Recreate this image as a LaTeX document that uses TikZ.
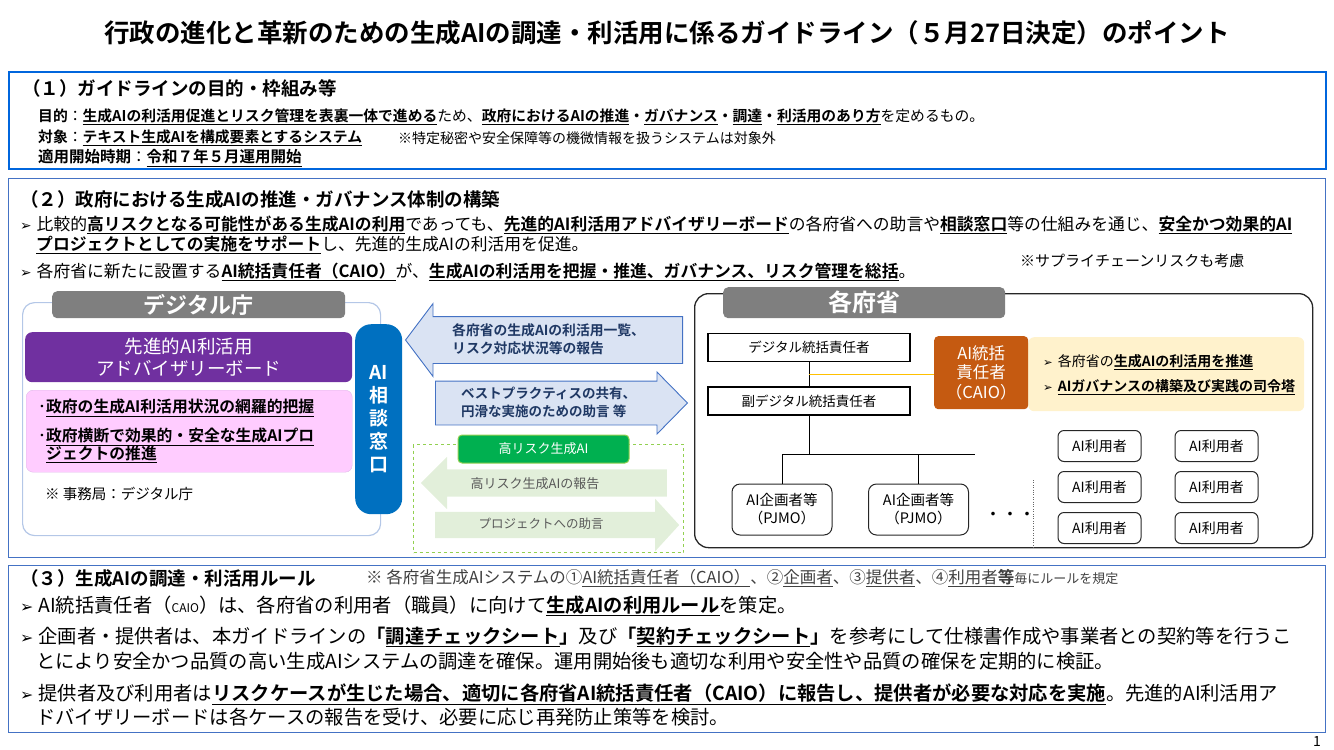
\documentclass[tikz,border=0pt]{standalone}
\usepackage{fontspec}
\setmainfont{Noto Sans CJK JP}[BoldFont={Noto Sans CJK JP Bold}]
\newfontfamily\dingfont{DejaVu Sans}
\usepackage{xcolor}
\usepackage{tikz}
\usetikzlibrary{shapes.arrows, positioning, calc}
\definecolor{secBlue}{RGB}{0, 102, 221}
\definecolor{frameBlue}{RGB}{68, 114, 196}
\definecolor{tagGray}{RGB}{127, 127, 127}
\definecolor{boardPurple}{RGB}{112, 48, 160}
\definecolor{rolePink}{RGB}{255, 204, 255}
\definecolor{roleEdge}{RGB}{225, 185, 235}
\definecolor{daEdge}{RGB}{180, 199, 231}
\definecolor{deskBlue}{RGB}{0, 112, 192}
\definecolor{arrFill}{RGB}{218, 227, 243}
\definecolor{arrText}{RGB}{31, 56, 100}
\definecolor{riskEdge}{RGB}{146, 208, 80}
\definecolor{riskGreen}{RGB}{0, 176, 80}
\definecolor{riskFill}{RGB}{226, 239, 218}
\definecolor{riskText}{RGB}{89, 89, 89}
\definecolor{caioOrange}{RGB}{197, 90, 17}
\definecolor{caioYellow}{RGB}{255, 242, 204}
\definecolor{caioLine}{RGB}{255, 192, 0}
\definecolor{noteGray}{RGB}{64, 64, 64}
\newcommand\ubf[1]{\underline{\textbf{#1}}}
\newcommand\bul{\scalebox{0.82}{\dingfont ➢}\hspace{5pt}}

\begin{document}
\begin{tikzpicture}[x=1pt, y=-1pt,
  secframe/.style={draw=frameBlue, line width=1.3pt, anchor=north west, inner sep=0pt},
  sechead/.style={anchor=west, inner sep=0pt, font=\bfseries\fontsize{18.5}{20}\selectfont},
  txtS/.style={anchor=west, inner sep=0pt, font=\fontsize{14.8}{17}\selectfont},
  txtM/.style={anchor=west, inner sep=0pt, font=\fontsize{16.8}{19}\selectfont},
  txtL/.style={anchor=west, inner sep=0pt, font=\fontsize{19.3}{22}\selectfont},
  tagbox/.style={rectangle, rounded corners=5pt, fill=tagGray, text=white, anchor=north west,
               inner sep=0pt, font=\bfseries\fontsize{22}{24}\selectfont},
  boardbox/.style={rectangle, rounded corners=7pt, fill=boardPurple, text=white, anchor=north west,
               align=center, inner sep=0pt, font=\fontsize{18.5}{22}\selectfont},
  rolebox/.style={rectangle, rounded corners=7pt, fill=rolePink, draw=roleEdge, anchor=north west, inner sep=0pt},
  roletxt/.style={anchor=west, inner sep=0pt, align=left, font=\fontsize{15.8}{18}\selectfont},
  deskbox/.style={rectangle, rounded corners=16pt, fill=deskBlue, text=white, anchor=north west,
               align=center, inner sep=0pt, font=\bfseries\fontsize{19}{23}\selectfont},
  bluearrow/.style={single arrow, draw=frameBlue, fill=arrFill, line width=0.9pt, inner xsep=0pt, anchor=tail},
  greenarrow/.style={single arrow, fill=riskFill, inner xsep=0pt, anchor=tail},
  arrtxt/.style={anchor=west, inner sep=0pt, align=left, text=arrText, font=\bfseries\fontsize{13.8}{17.5}\selectfont},
  risktxt/.style={inner sep=0pt, text=riskText, font=\fontsize{13}{15}\selectfont},
  orgbox/.style={rectangle, draw=black, line width=1.5pt, fill=white, minimum width=202pt,
               minimum height=28pt, inner sep=0pt, font=\fontsize{13.5}{15}\selectfont},
  pjmobox/.style={rectangle, rounded corners=8pt, draw=black!85, line width=1pt, minimum width=100pt,
               minimum height=51pt, align=center, inner sep=0pt, font=\fontsize{14.5}{18}\selectfont},
  userbox/.style={rectangle, rounded corners=6pt, draw=black!85, line width=1pt, minimum width=83pt,
               minimum height=31pt, inner sep=0pt, font=\fontsize{14}{16}\selectfont},
  orgline/.style={line width=1pt},
]
  \useasboundingbox (0,0) rectangle (1334,750);

  % Title
  \node[font=\bfseries\fontsize{25.5}{28}\selectfont] (title) at (667,33) {行政の進化と革新のための生成AIの調達・利活用に係るガイドライン（５月27日決定）のポイント};

  % (1) Purpose and framework
  \node[secframe, draw=secBlue, line width=1.8pt, minimum width=1317pt, minimum height=97pt] (sec1) at (8,71) {};
  \node[sechead] (head1) at (22,88) {（１）ガイドラインの目的・枠組み等};
  \node[txtS] (purpose) at (38,117) {\textbf{目的}：\ubf{生成AIの利活用促進とリスク管理を表裏一体で進める}ため、\ubf{政府におけるAIの推進}\textbf{・}\ubf{ガバナンス}\textbf{・}\ubf{調達}\textbf{・}\ubf{利活用のあり方}を定めるもの。};
  \node[txtS] (scope) at (38,138) {\textbf{対象}：\ubf{テキスト生成AIを構成要素とするシステム}};
  \node[txtS, font=\fontsize{14}{16}\selectfont] (scopenote) at (398,138) {※特定秘密や安全保障等の機微情報を扱うシステムは対象外};
  \node[txtS, font=\fontsize{15.5}{17}\selectfont] (start) at (38,158) {\textbf{適用開始時期}：\ubf{令和７年５月運用開始}};

  % (2) Promotion and governance
  \node[secframe, minimum width=1317pt, minimum height=379pt] (sec2) at (8,178) {};
  \node[sechead] (head2) at (20,199) {（２）政府における生成AIの推進・ガバナンス体制の構築};
  \node[txtM] (gov1) at (20,225) {\bul 比較的\ubf{高リスクとなる可能性がある生成AIの利用}であっても、\ubf{先進的AI利活用アドバイザリーボード}の各府省への助言や\ubf{相談窓口}等の仕組みを通じ、\ubf{安全かつ効果的AI}};
  \node[txtM] (gov1b) at (36,245) {\ubf{プロジェクトとしての実施をサポート}し、先進的生成AIの利活用を促進。};
  \node[txtM] (gov2) at (20,272) {\bul 各府省に新たに設置する\ubf{AI統括責任者（CAIO）}が、\ubf{生成AIの利活用を把握・推進、ガバナンス、リスク管理を総括}。};
  \node[txtS, font=\fontsize{15}{17}\selectfont] (supply) at (1020,261) {※サプライチェーンリスクも考慮};

  % Digital Agency
  \node[rectangle, rounded corners=12pt, draw=daEdge, line width=1.2pt, anchor=north west,
        minimum width=358pt, minimum height=233pt] (dafrm) at (22,302) {};
  \node[tagbox, minimum width=293pt, minimum height=27pt] (dahead) at (52,291) {デジタル庁};
  \node[boardbox, minimum width=327pt, minimum height=50pt] (board) at (25,332) {先進的AI利活用\\アドバイザリーボード};
  \node[rolebox, minimum width=326pt, minimum height=82pt] (roles) at (26,390) {};
  \node[roletxt] (role1) at (38,408) {･\ubf{政府の生成AI利活用状況の網羅的把握}};
  \node[roletxt, anchor=north west] (role2) at (38,428) {･\ubf{政府横断で効果的・安全な生成AIプロ}\\\hspace{8pt}\ubf{ジェクトの推進}};
  \node[txtS, font=\fontsize{14.5}{16}\selectfont] (office) at (45,494) {※ 事務局：デジタル庁};
  \node[deskbox, minimum width=47pt, minimum height=190pt] (desk) at (355,324) {AI\\相\\談\\窓\\口};

  % Flows between agency and ministries
  \node[bluearrow, shape border rotate=180, inner ysep=23pt, minimum height=277pt, minimum width=72pt,
        single arrow head extend=13pt, single arrow tip angle=106] (repArr) at (683,340) {};
  \node[arrtxt] (repTxt) at (452,339) {各府省の生成AIの利活用一覧、\\リスク対応状況等の報告};
  \node[bluearrow, inner ysep=21.5pt, minimum height=252pt, minimum width=61pt,
        single arrow head extend=9pt, single arrow tip angle=91] (advArr) at (435,403) {};
  \node[arrtxt, font=\bfseries\fontsize{13.5}{18}\selectfont] (advTxt) at (461,402) {ベストプラクティスの共有、\\円滑な実施のための助言 等};

  % High-risk AI
  \node[rectangle, draw=riskEdge, dashed, line width=1pt, anchor=north west,
        minimum width=270pt, minimum height=108pt] (riskfrm) at (413,444) {};
  \node[greenarrow, shape border rotate=180, inner ysep=13.5pt, minimum height=246pt, minimum width=52pt,
        single arrow head extend=12.5pt, single arrow tip angle=90] (riskArr) at (667,483) {};
  \node[risktxt] (riskTxt) at (535,484) {高リスク生成AIの報告};
  \node[greenarrow, inner ysep=13pt, minimum height=244pt, minimum width=52pt,
        single arrow head extend=13pt, single arrow tip angle=95] (projArr) at (435,525) {};
  \node[risktxt, font=\fontsize{12.5}{15}\selectfont] (projTxt) at (541,524) {プロジェクトへの助言};
  \node[rectangle, rounded corners=4pt, fill=riskGreen, draw=riskEdge, line width=1pt, text=white,
        minimum width=171pt, minimum height=28pt, inner sep=0pt, font=\fontsize{13}{15}\selectfont] (risktag) at (543.5,449) {高リスク生成AI};

  % Ministries
  \node[rectangle, rounded corners=14pt, draw=black!85, line width=1.3pt, anchor=north west,
        minimum width=618pt, minimum height=254pt] (minfrm) at (694,293) {};
  \node[tagbox, minimum width=282pt, minimum height=31pt, font=\bfseries\fontsize{24}{26}\selectfont] (minhead) at (723,287) {各府省};
  \node[orgbox] (dtop) at (809,347.5) {デジタル統括責任者};
  \node[orgbox] (dsub) at (809,401) {副デジタル統括責任者};
  \node[rectangle, rounded corners=6pt, fill=caioYellow, anchor=north west,
        minimum width=276pt, minimum height=74pt] (caiorole) at (1028,337) {};
  \node[rectangle, rounded corners=4pt, fill=caioOrange, text=white, anchor=north west, align=center,
        minimum width=94pt, minimum height=73pt, inner sep=0pt, font=\fontsize{16.5}{19.5}\selectfont] (caio) at (934,336) {AI統括\\責任者\\（CAIO）};
  \node[txtS, font=\fontsize{14}{16}\selectfont] (caio1) at (1043,362) {\bul 各府省の\ubf{生成AIの利活用を推進}};
  \node[txtS, font=\fontsize{14}{16}\selectfont] (caio2) at (1043,387) {\bul \ubf{AIガバナンスの構築及び実践の司令塔}};
  \node[pjmobox] (pj1) at (782,509.5) {AI企画者等\\（PJMO）};
  \node[pjmobox] (pj2) at (918.5,509.5) {AI企画者等\\（PJMO）};
  \node[font=\fontsize{17}{17}\selectfont, inner sep=0pt] (dots) at (1010,516) {・・・};
  \node[userbox] (user1) at (1099.5,446) {AI利用者};
  \node[userbox, right=33pt of user1] (user2) {AI利用者};
  \node[userbox, below=9pt of user1] (user3) {AI利用者};
  \node[userbox, right=33pt of user3] (user4) {AI利用者};
  \node[userbox, below=9pt of user3] (user5) {AI利用者};
  \node[userbox, right=33pt of user5] (user6) {AI利用者};

  % Ministry lines
  \coordinate (jn) at ($(dtop.south)!0.5!(dsub.north)$);
  \coordinate (bus) at (809,454);
  \coordinate (busL) at (pj1.north |- bus);
  \coordinate (busR) at (975,454);
  \coordinate (sepTop) at (1033,480);
  \draw[orgline] (dtop) -- (dsub);
  \draw[orgline] (dsub) -- (bus);
  \draw[orgline] (busL) -- (busR);
  \draw[orgline] (busL) -- (pj1);
  \draw[orgline] (bus -| pj2.north) -- (pj2);
  \draw[caioLine, line width=1pt] (jn) -- (jn -| caio.west);
  \draw[black!60, dotted] (sepTop) -- (sepTop |- minfrm.south);

  % (3) Procurement and use rules
  \node[secframe, minimum width=1317pt, minimum height=167pt] (sec3) at (8,565) {};
  \node[sechead] (head3) at (20,578) {（３）生成AIの調達・利活用ルール};
  \node[txtS, text=noteGray, font=\fontsize{16.5}{18}\selectfont] (rulenote) at (366,578) {※ 各府省生成AIシステムの①\underline{AI統括責任者（CAIO）}、②\underline{企画者}、③\underline{提供者}、④\underline{利用者\textbf{等}}{\fontsize{13}{15}\selectfont 毎にルールを規定}};
  \node[txtL] (rule1) at (20,606) {\bul AI統括責任者（{\fontsize{12}{14}\selectfont CAIO}）は、各府省の利用者（職員）に向けて\ubf{生成AIの利用ルール}を策定。};
  \node[txtL] (rule2) at (20,637) {\bul 企画者・提供者は、本ガイドラインの\textbf{「}\ubf{調達チェックシート}\textbf{」}及び\textbf{「}\ubf{契約チェックシート}\textbf{」}を参考にして仕様書作成や事業者との契約等を行うこ};
  \node[txtL] (rule2b) at (36,661) {とにより安全かつ品質の高い生成AIシステムの調達を確保。運用開始後も適切な利用や安全性や品質の確保を定期的に検証。};
  \node[txtL] (rule3) at (20,694) {\bul 提供者及び利用者は\ubf{リスクケースが生じた場合、適切に各府省AI統括責任者（CAIO）に報告し、提供者が必要な対応を実施}。先進的AI利活用ア};
  \node[txtL] (rule3b) at (36,717) {ドバイザリーボードは各ケースの報告を受け、必要に応じ再発防止策等を検討。};

  % Page number
  \node[font=\fontsize{14}{16}\selectfont, inner sep=0pt] (pageno) at (1317,741) {1};
\end{tikzpicture}
\end{document}
